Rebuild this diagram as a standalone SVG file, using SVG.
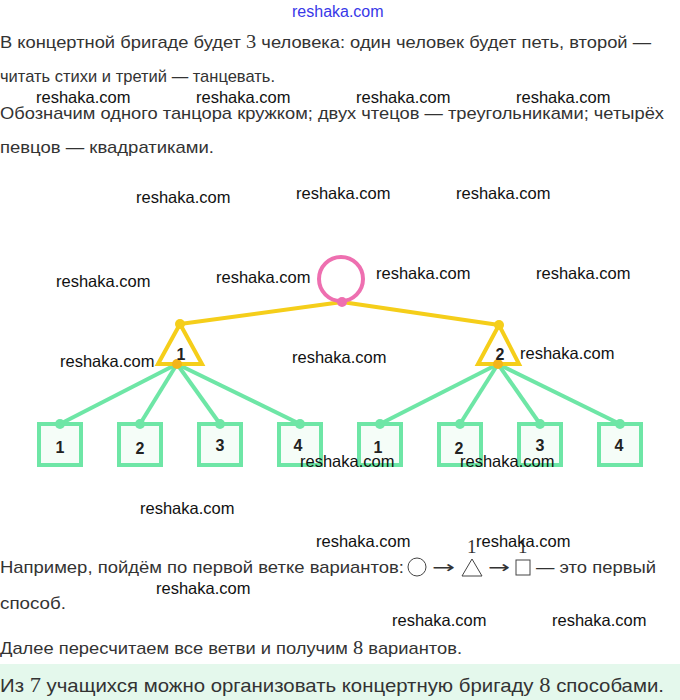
<svg xmlns="http://www.w3.org/2000/svg" width="680" height="700" viewBox="0 0 680 700">
<style>
.t{font-family:"Liberation Sans",Arial,sans-serif;font-size:17px;fill:#333}
.m{font-family:"Liberation Serif","DejaVu Serif",serif;font-size:19px}
.wm{font-family:"Liberation Sans",Arial,sans-serif;font-size:16.5px;fill:#111}
.lbl{font-family:"Liberation Sans",Arial,sans-serif;font-size:16px;font-weight:bold;fill:#222;text-anchor:middle}
.sym{font-family:"DejaVu Sans",sans-serif;fill:#333}
.yl{stroke:#F5CE1A;stroke-width:4;fill:none}
.gl{stroke:#6EE6A6;stroke-width:4;fill:none}
.sq{stroke:#6EE6A6;stroke-width:4;fill:#f5fdf8}
.tri{stroke:#F5CE1A;stroke-width:4;fill:#fff;stroke-linejoin:miter}
.ms{fill:none;stroke:#444;stroke-width:1}
</style>
<rect x="0" y="0" width="680" height="700" fill="#fff"/>

<text class="t" x="0" y="48" textLength="651" lengthAdjust="spacingAndGlyphs">В концертной бригаде будет <tspan class="m">3</tspan> человека: один человек будет петь, второй —</text>
<text class="t" x="0" y="82" textLength="275" lengthAdjust="spacingAndGlyphs">читать стихи и третий — танцевать.</text>
<text class="t" x="0" y="119" textLength="664" lengthAdjust="spacingAndGlyphs">Обозначим одного танцора кружком; двух чтецов — треугольниками; четырёх</text>
<text class="t" x="0" y="153" textLength="214" lengthAdjust="spacingAndGlyphs">певцов — квадратиками.</text>

<g id="connectors">
<line class="yl" x1="342" y1="302" x2="180" y2="324"/>
<line class="yl" x1="342" y1="302" x2="499" y2="325"/>
<line class="gl" x1="177" y1="364" x2="60" y2="424"/>
<line class="gl" x1="177" y1="364" x2="140" y2="424"/>
<line class="gl" x1="177" y1="364" x2="220" y2="424"/>
<line class="gl" x1="177" y1="364" x2="300" y2="424"/>
<line class="gl" x1="498" y1="364" x2="380" y2="424"/>
<line class="gl" x1="498" y1="364" x2="460" y2="424"/>
<line class="gl" x1="498" y1="364" x2="540" y2="424"/>
<line class="gl" x1="498" y1="364" x2="620" y2="424"/>
</g>

<g id="dancer">
<circle cx="341" cy="279" r="22" fill="#fff" stroke="#EE6FB0" stroke-width="4"/>
<circle cx="342" cy="302" r="5" fill="#EE6FB0"/>
</g>
<g id="reader1">
<polygon class="tri" points="180,324 158,364 202,364"/>
<circle cx="180" cy="324" r="5" fill="#F5CE1A"/>
<circle cx="177" cy="364" r="5" fill="#F3B51B"/>
<text class="lbl" x="181" y="360">1</text>
</g>
<g id="reader2">
<polygon class="tri" points="499,325 478,364 519,364"/>
<circle cx="499" cy="325" r="5" fill="#F5CE1A"/>
<circle cx="498" cy="364" r="5" fill="#F3B51B"/>
<text class="lbl" x="500" y="360">2</text>
</g>

<g id="s1a"><rect class="sq" x="39" y="424" width="42" height="41"/><circle cx="60" cy="424" r="5" fill="#6EE6A6"/><text class="lbl" x="60" y="453">1</text></g>
<g id="s1b"><rect class="sq" x="119" y="424" width="42" height="41"/><circle cx="140" cy="424" r="5" fill="#6EE6A6"/><text class="lbl" x="140" y="454">2</text></g>
<g id="s1c"><rect class="sq" x="199" y="424" width="42" height="41"/><circle cx="220" cy="424" r="5" fill="#6EE6A6"/><text class="lbl" x="220" y="451">3</text></g>
<g id="s1d"><rect class="sq" x="279" y="424" width="42" height="41"/><circle cx="300" cy="424" r="5" fill="#6EE6A6"/><text class="lbl" x="298" y="451">4</text></g>
<g id="s2a"><rect class="sq" x="359" y="424" width="42" height="41"/><circle cx="380" cy="424" r="5" fill="#6EE6A6"/><text class="lbl" x="378" y="453">1</text></g>
<g id="s2b"><rect class="sq" x="439" y="424" width="42" height="41"/><circle cx="460" cy="424" r="5" fill="#6EE6A6"/><text class="lbl" x="459" y="454">2</text></g>
<g id="s2c"><rect class="sq" x="519" y="424" width="42" height="41"/><circle cx="540" cy="424" r="5" fill="#6EE6A6"/><text class="lbl" x="540" y="451">3</text></g>
<g id="s2d"><rect class="sq" x="599" y="424" width="42" height="41"/><circle cx="620" cy="424" r="5" fill="#6EE6A6"/><text class="lbl" x="619" y="451">4</text></g>

<text class="t" x="0" y="573" textLength="404" lengthAdjust="spacingAndGlyphs">Например, пойдём по первой ветке вариантов:</text>
<circle class="ms" cx="417" cy="567" r="9"/>
<text class="sym" x="432" y="573" font-size="17" textLength="23" lengthAdjust="spacingAndGlyphs">→</text>
<polygon class="ms" points="472,559 462,576 482,576"/>
<text class="m" x="467" y="553" font-size="13" fill="#333">1</text>
<text class="sym" x="488" y="573" font-size="17" textLength="22" lengthAdjust="spacingAndGlyphs">→</text>
<rect class="ms" x="516" y="560" width="14" height="15"/>
<text class="m" x="518" y="553" font-size="13" fill="#333">1</text>
<text class="t" x="536" y="573" textLength="120" lengthAdjust="spacingAndGlyphs">— это первый</text>
<text class="t" x="0" y="609" textLength="66" lengthAdjust="spacingAndGlyphs">способ.</text>
<text class="t" x="0" y="654" textLength="462" lengthAdjust="spacingAndGlyphs">Далее пересчитаем все ветви и получим <tspan class="m">8</tspan> вариантов.</text>

<rect x="0" y="664" width="680" height="36" fill="#e4f8ec"/>
<text class="t" x="0" y="692" textLength="664" lengthAdjust="spacingAndGlyphs" style="font-size:19px">Из <tspan class="m" style="font-size:21px">7</tspan> учащихся можно организовать концертную бригаду <tspan class="m" style="font-size:21px">8</tspan> способами.</text>

<g id="watermarks">
<text x="292" y="17" style="font-family:'Liberation Sans',Arial,sans-serif;font-size:16px;fill:#3838e8">reshaka.com</text>
<text class="wm" x="36" y="103">reshaka.com</text>
<text class="wm" x="196" y="103">reshaka.com</text>
<text class="wm" x="356" y="103">reshaka.com</text>
<text class="wm" x="516" y="103">reshaka.com</text>
<text class="wm" x="136" y="203">reshaka.com</text>
<text class="wm" x="296" y="199">reshaka.com</text>
<text class="wm" x="456" y="199">reshaka.com</text>
<text class="wm" x="56" y="287">reshaka.com</text>
<text class="wm" x="216" y="283">reshaka.com</text>
<text class="wm" x="376" y="279">reshaka.com</text>
<text class="wm" x="536" y="279">reshaka.com</text>
<text class="wm" x="60" y="367">reshaka.com</text>
<text class="wm" x="292" y="363">reshaka.com</text>
<text class="wm" x="520" y="359">reshaka.com</text>
<text class="wm" x="300" y="467">reshaka.com</text>
<text class="wm" x="460" y="467">reshaka.com</text>
<text class="wm" x="140" y="514">reshaka.com</text>
<text class="wm" x="316" y="547">reshaka.com</text>
<text class="wm" x="476" y="547">reshaka.com</text>
<text class="wm" x="156" y="594">reshaka.com</text>
<text class="wm" x="392" y="626">reshaka.com</text>
<text class="wm" x="552" y="626">reshaka.com</text>
</g>
</svg>
